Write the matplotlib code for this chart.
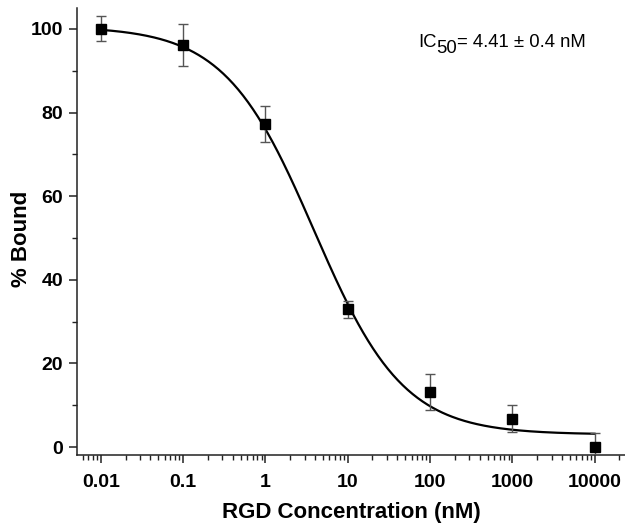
import numpy as np
import matplotlib
matplotlib.use("Agg")
import matplotlib.pyplot as plt
from matplotlib.ticker import LogLocator, FixedLocator, FixedFormatter, MultipleLocator

plt.rcParams["font.family"] = ["Liberation Sans", "DejaVu Sans"]

# === Data ===
conc = [0.01, 0.1, 1, 10, 100, 1000, 10000]
bound = [100.0, 96.2, 77.3, 32.9, 13.1, 6.8, 0.0]
bound_err = [3.0, 5.0, 4.3, 2.0, 4.3, 3.2, 3.3]

# 4-parameter logistic fit parameters
fit_top = 100.6
fit_bottom = 3.0
fit_ic50 = 3.9
fit_hill = 0.8

x_ticks = [0.01, 0.1, 1, 10, 100, 1000, 10000]
x_tick_labels = ["0.01", "0.1", "1", "10", "100", "1000", "10000"]

W, H = 625, 523

# === Plot ===
fig = plt.figure(figsize=(W / 100, H / 100), dpi=100)
ax = fig.add_axes([77 / W, 1 - 455 / H, 1 - 77 / W, (455 - 8) / H])

xs = np.logspace(-2, 4, 400)
ys = fit_bottom + (fit_top - fit_bottom) / (1 + (xs / fit_ic50) ** fit_hill)
ax.plot(xs, ys, color="black", lw=1.6, zorder=2)

ax.errorbar(conc, bound, yerr=bound_err, fmt="none", ecolor="#555555",
            elinewidth=1.0, capsize=3.5, capthick=1.0, zorder=3)
ax.plot(conc, bound, "s", color="black", markersize=7, zorder=4)

ax.set_xscale("log")
ax.set_xlim(10 ** -2.29, 10 ** 4.37)
ax.set_ylim(-1.9, 105)

ax.xaxis.set_major_locator(FixedLocator(x_ticks))
ax.xaxis.set_major_formatter(FixedFormatter(x_tick_labels))
ax.xaxis.set_minor_locator(LogLocator(base=10, subs=np.arange(2, 10), numticks=20))
ax.yaxis.set_major_locator(MultipleLocator(20))
ax.yaxis.set_minor_locator(MultipleLocator(10))

for side in ["top", "right"]:
    ax.spines[side].set_visible(False)
for side in ["left", "bottom"]:
    ax.spines[side].set_linewidth(1.1)
    ax.spines[side].set_color("#222222")

ax.tick_params(axis="both", which="major", direction="out", length=6, width=1.1,
               color="#222222", labelsize=14)
ax.tick_params(axis="x", which="major", pad=8)
ax.tick_params(axis="y", which="major", pad=4)
ax.tick_params(axis="both", which="minor", direction="out", length=3.5, width=1.0,
               color="#222222")
for lbl in ax.get_xticklabels() + ax.get_yticklabels():
    lbl.set_fontweight("bold")

ax.set_xlabel("RGD Concentration (nM)", fontsize=16, fontweight="bold")
ax.xaxis.set_label_coords(0.5, -0.105)
ax.set_ylabel("% Bound", fontsize=16, fontweight="bold")
ax.yaxis.set_label_coords(-0.082, 0.483)

# IC50 annotation: subscript drawn at full size, shifted down
fs_ic = 13.3
renderer = fig.canvas.get_renderer()
x_px, base_px = 418, H - 47
t1 = fig.text(x_px / W, base_px / H, "IC", fontsize=fs_ic, va="baseline")
x_px = t1.get_window_extent(renderer).x1
t2 = fig.text(x_px / W, (base_px - 6) / H, "50", fontsize=fs_ic, va="baseline")
x_px = t2.get_window_extent(renderer).x1
fig.text(x_px / W, base_px / H, "= 4.41 ± 0.4 nM", fontsize=fs_ic, va="baseline")

fig.savefig("out.png", dpi=100)
plt.close(fig)
